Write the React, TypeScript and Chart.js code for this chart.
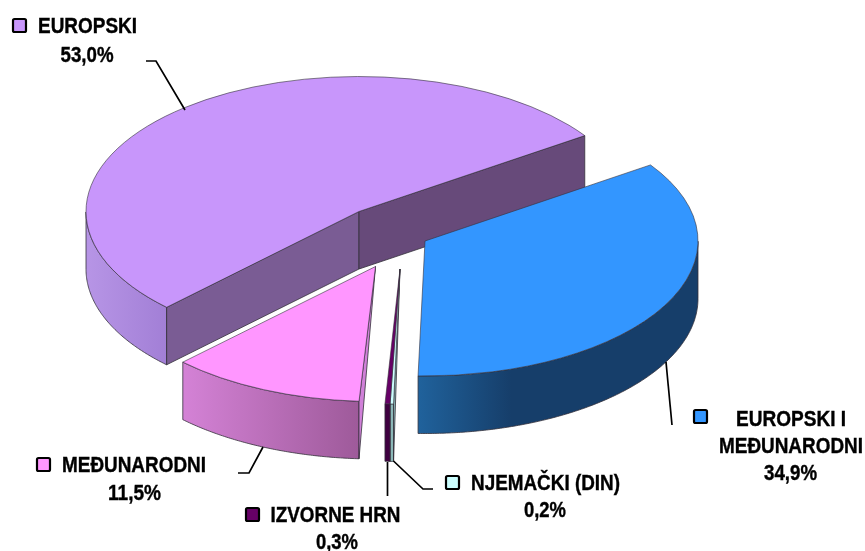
import React, { useEffect, useRef } from "react";
import { Chart, registerables } from "chart.js";

Chart.register(...registerables);

// ---- data ----
const categories = ["EUROPSKI", "EUROPSKI I\nMEĐUNARODNI", "NJEMAČKI (DIN)", "IZVORNE HRN", "MEĐUNARODNI"];
const shares = [53.0, 34.9, 0.2, 0.3, 11.5];
const topColors = ["#C896FB", "#3396FF", "#CCFFFF", "#660066", "#FF96FF"];

// ---- 3D look: where each exploded slice sits, and its walls ----
const RADIUS = 273;
const SQUASH = 135 / 273;
const DEPTH = 57.5;
const slicePos = [
  { x: 359, y: 211.5, rot: -0.8 },
  { x: 425, y: 241, rot: -0.9 },
  { x: 400, y: 269, rot: -1 },
  { x: 400, y: 269, rot: -1 },
  { x: 375.5, y: 266.5, rot: -0.7 },
];
const wallStops = [
  ["#B795E6", "#A27FD6"],
  ["#20629C", "#163E6A", "#163E6A", "#163E6A"],
  ["#8CB8B8", "#8CB8B8"],
  ["#3F0040", "#3F0040"],
  ["#D482D6", "#9E5A9A"],
];
const startFace = [null, null, "#8CB8B8", null, "#D080D8"];
const OUTLINE = "#33303A";

// ---- labels ----
const labelFont = 'bold 22px "Liberation Sans", Arial, sans-serif';
const labelLayout = [
  { key: [12, 18], lines: [[87.5, 33, 99]], pct: [87, 62, 53] },
  { key: [693, 409], lines: [[791, 426, 110], [791, 453, 144]], pct: [790.5, 480, 53] },
  { key: [445, 475], lines: [[545.5, 490, 149]], pct: [545, 517, 42] },
  { key: [245, 507], lines: [[335.5, 522, 130]], pct: [337, 549, 42] },
  { key: [36, 457], lines: [[134, 472, 144]], pct: [134.5, 500, 53] },
];
const leaders = [
  [[146, 61], [156, 61], [185, 110]],
  [[666, 362], [672, 425]],
  [[393.5, 461], [423, 489], [433, 489]],
  [[387.5, 462], [387.5, 496]],
  [[238, 473], [249, 473], [263, 447]],
];

const pie3d = {
  id: "pie3d",
  beforeDatasetsDraw(chart: any) {
    const ctx = chart.ctx;
    const arcs = chart.getDatasetMeta(0).data;
    arcs.forEach((arc: any, i: number) => {
      const pos = slicePos[i];
      const rot = (pos.rot * Math.PI) / 180;
      const r = arc.outerRadius;
      const pt = (a: number) => [pos.x + r * Math.cos(a + rot), pos.y + r * SQUASH * Math.sin(a + rot)];
      const a0 = arc.startAngle;
      const a1 = arc.endAngle;

      ctx.save();
      ctx.lineWidth = 0.8;
      ctx.strokeStyle = OUTLINE;
      ctx.lineJoin = "round";

      // outer wall: only the front-facing part of the rim
      const rim: number[][] = [];
      const steps = Math.max(4, Math.ceil(((a1 - a0) * 180) / Math.PI) * 2);
      for (let s = 0; s <= steps; s++) {
        const a = a0 + ((a1 - a0) * s) / steps;
        if (Math.sin(a + rot) >= -0.001) rim.push(pt(a));
      }
      if (rim.length > 1) {
        const xs = rim.map((p) => p[0]);
        const grad = ctx.createLinearGradient(Math.min(...xs), 0, Math.max(...xs), 0);
        wallStops[i].forEach((c, k, all) => grad.addColorStop(k / (all.length - 1), c));
        ctx.beginPath();
        rim.forEach((p, k) => (k ? ctx.lineTo(p[0], p[1]) : ctx.moveTo(p[0], p[1])));
        for (let k = rim.length - 1; k >= 0; k--) ctx.lineTo(rim[k][0], rim[k][1] + DEPTH);
        ctx.closePath();
        ctx.fillStyle = grad;
        ctx.fill();
        ctx.stroke();
      }

      // the two cut faces of the big slice
      if (i === 0) {
        const faces: [number, string][] = [
          [a0, "#7A5C94"],
          [a1, "#674A7A"],
        ];
        faces.forEach(([a, c]) => {
          const p = pt(a);
          ctx.beginPath();
          ctx.moveTo(pos.x, pos.y);
          ctx.lineTo(p[0], p[1]);
          ctx.lineTo(p[0], p[1] + DEPTH);
          ctx.lineTo(pos.x, pos.y + DEPTH);
          ctx.closePath();
          ctx.fillStyle = c;
          ctx.fill();
          ctx.stroke();
        });
      }

      // narrow visible side face of the front slices
      const sf = startFace[i];
      if (sf) {
        const p = pt(a0);
        ctx.beginPath();
        ctx.moveTo(pos.x, pos.y);
        ctx.lineTo(p[0], p[1]);
        ctx.lineTo(p[0], p[1] + DEPTH);
        ctx.closePath();
        ctx.fillStyle = sf;
        ctx.fill();
        ctx.stroke();
      }

      // top face: the library's own arc element, moved and squashed
      ctx.translate(pos.x, pos.y);
      ctx.scale(1, SQUASH);
      ctx.rotate(rot);
      ctx.translate(-arc.x, -arc.y);
      arc.draw(ctx);
      ctx.restore();
    });
    return false;
  },
  afterDraw(chart: any) {
    const ctx = chart.ctx;
    ctx.save();
    ctx.strokeStyle = "#000";
    ctx.lineWidth = 1.7;
    leaders.forEach((line) => {
      ctx.beginPath();
      line.forEach((p, k) => (k ? ctx.lineTo(p[0], p[1]) : ctx.moveTo(p[0], p[1])));
      ctx.stroke();
    });
    ctx.font = labelFont;
    ctx.textAlign = "center";
    ctx.textBaseline = "alphabetic";
    const heavyText = (txt: string, x: number, y: number, w: number) => {
      ctx.fillStyle = "#000";
      ctx.strokeStyle = "#000";
      ctx.lineWidth = 0.4;
      ctx.fillText(txt, x, y, w);
      ctx.strokeText(txt, x, y, w);
    };
    categories.forEach((cat, i) => {
      const lay = labelLayout[i];
      cat.split("\n").forEach((txt, k) => {
        const [x, y, w] = lay.lines[k];
        heavyText(txt, x, y, w);
      });
      const pct = shares[i].toFixed(1).replace(".", ",") + "%";
      heavyText(pct, lay.pct[0], lay.pct[1], lay.pct[2]);
      ctx.beginPath();
      ctx.roundRect(lay.key[0] + 1, lay.key[1] + 1, 13, 13, 1.5);
      ctx.fillStyle = topColors[i];
      ctx.fill();
      ctx.lineWidth = 2.2;
      ctx.strokeStyle = "#000";
      ctx.stroke();
    });
    ctx.restore();
  },
};

export default function App() {
  const ref = useRef<HTMLCanvasElement>(null);
  useEffect(() => {
    document.body.style.margin = "0";
    const chart = new Chart(ref.current as HTMLCanvasElement, {
      type: "pie",
      data: {
        labels: categories,
        datasets: [
          {
            data: shares,
            backgroundColor: topColors,
            borderColor: OUTLINE,
            borderWidth: 0.8,
            radius: RADIUS,
          } as any,
        ],
      },
      options: {
        responsive: false,
        animation: false,
        rotation: 225.6,
        layout: { padding: 0 },
        plugins: { legend: { display: false }, tooltip: { enabled: false } },
      },
      plugins: [pie3d as any],
    });
    return () => chart.destroy();
  }, []);
  return <canvas ref={ref} width={865} height={551} style={{ display: "block" }} />;
}
